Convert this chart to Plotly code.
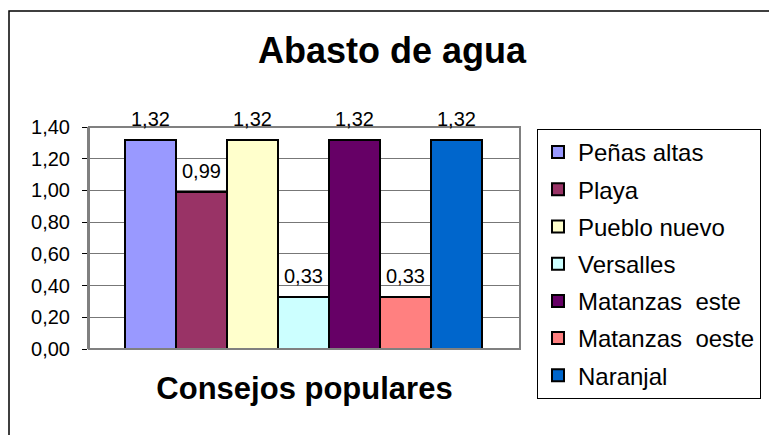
import plotly.graph_objects as go

# Datos del gráfico
consejos = ["Peñas altas", "Playa", "Pueblo nuevo", "Versalles",
            "Matanzas\u00a0 este", "Matanzas\u00a0 oeste", "Naranjal"]
abasto = [1.32, 0.99, 1.32, 0.33, 1.32, 0.33, 1.32]
colores = ["#9999FF", "#993366", "#FFFFCC", "#CCFFFF", "#660066", "#FF8080", "#0066CC"]
y_ticks = [0.0, 0.2, 0.4, 0.6, 0.8, 1.0, 1.2, 1.4]

W, H = 769, 435
L, R, T, B = 89, 249, 127, 86
FONT = "Arial, Liberation Sans, sans-serif"

fig = go.Figure()

for i, (name, val, col) in enumerate(zip(consejos, abasto, colores)):
    fig.add_trace(go.Bar(
        x=[name], y=[val],
        name=name,
        legendgroup=name,
        marker=dict(color=col, line=dict(color="black", width=2)),
        width=1,
        hoverinfo="skip",
    ))
    # etiqueta de datos
    fig.add_annotation(
        x=name, y=val, xref="x", yref="y",
        text=f"{val:.2f}".replace(".", ","),
        showarrow=False, yanchor="bottom", yshift=9,
        font=dict(family=FONT, size=20, color="black"),
        borderpad=0,
    )

# borde del área de trazado
fig.add_shape(type="rect", xref="paper", yref="paper", x0=0, x1=1, y0=0, y1=1,
              line=dict(color="#808080", width=2), layer="above")
# borde del gráfico
fig.add_shape(type="rect", xref="paper", yref="paper",
              x0=(9 - L) / 431, x1=1.7, y0=-0.6, y1=(349 - 11) / 222,
              line=dict(color="black", width=1.5), layer="below")

fig.update_layout(
    width=W, height=H,
    margin=dict(l=L, r=R, t=T, b=B, autoexpand=False),
    paper_bgcolor="white", plot_bgcolor="white",
    separators=",.",
    barmode="overlay", bargap=0,
    font=dict(family=FONT, color="black"),
    title=dict(text="<b>Abasto de agua</b>", x=392 / W, xref="container", xanchor="center",
               y=1 - 50 / H, yref="container", yanchor="middle",
               font=dict(family=FONT, size=36, color="black")),
    showlegend=True,
    legend=dict(x=(537 - L) / 431, y=(349 - 129) / 222, xanchor="left", yanchor="top",
                maxheight=300,
                bordercolor="black", borderwidth=1, bgcolor="white",
                font=dict(family=FONT, size=24, color="black"),
                tracegroupgap=3, itemwidth=30),
    xaxis=dict(type="category", range=[-1.21, 7.24], showticklabels=False, ticks="",
               showgrid=False, zeroline=False, showline=False,
               title=dict(text="<b>Consejos populares</b>", standoff=28,
                          font=dict(family=FONT, size=31, color="black"))),
    yaxis=dict(range=[0, 1.4], tickvals=y_ticks, tickformat=".2f",
               ticks="outside", ticklen=5, tickcolor="black", tickwidth=1,
               ticklabelstandoff=8,
               tickfont=dict(family=FONT, size=20, color="black"),
               showgrid=True, gridcolor="#777777", gridwidth=1,
               zeroline=False, showline=True, linecolor="#808080", linewidth=2),
)

fig.write_html("out.html", config={"displayModeBar": False},
               post_script="document.body.style.margin='0';")
